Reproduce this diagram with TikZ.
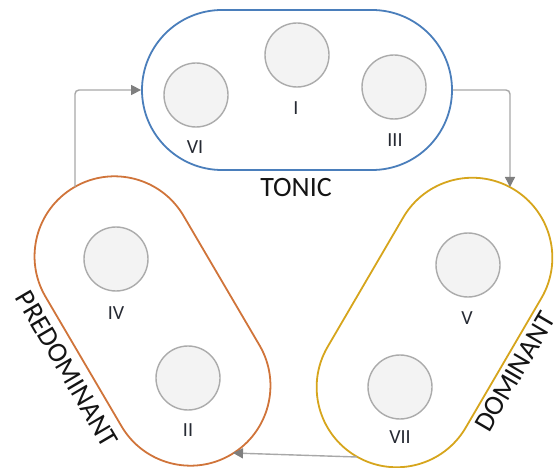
\documentclass[tikz,border=0pt]{standalone}
\usepackage{fontspec}
\setmainfont{Carlito}
\usetikzlibrary{shapes.misc,arrows.meta}
\definecolor{tonicblue}{HTML}{4A7EBB}
\definecolor{predorange}{HTML}{D0743A}
\definecolor{domgold}{HTML}{D6A51C}
\definecolor{chordfill}{HTML}{F3F3F3}
\definecolor{chordline}{HTML}{ABABAB}
\definecolor{flowline}{HTML}{A8A8A8}
\definecolor{flowtip}{HTML}{7F7F7F}
\definecolor{labeltext}{HTML}{262A33}
\begin{document}
\begin{tikzpicture}[x=1pt,y=-1pt,
  group/.style={rounded rectangle, draw, line width=1.8pt,
    minimum width=310pt, minimum height=160pt, inner sep=0pt},
  chord/.style={circle, draw=chordline, fill=chordfill, line width=1.4pt,
    minimum size=64pt, inner sep=0pt},
  numeral/.style={text=labeltext, font=\fontsize{20}{24}\selectfont, inner sep=0pt},
  funclabel/.style={text=black!92, font=\fontsize{28}{32}\selectfont, inner sep=0pt},
  flow/.style={draw=flowline, line width=1.4pt, rounded corners=4pt,
    -{Triangle[length=10pt,width=10pt,color=flowtip]}}]
\useasboundingbox (0,0) rectangle (555,468);

% function groups
\node[group, draw=tonicblue] (TON) at (297,90) {};
\node[group, draw=predorange, rotate=-59.6] (PD) at (152.5,321) {};
\node[group, draw=domgold, rotate=59.7] (DM) at (434.5,322.5) {};

% chords
\node[chord] (cI)   at (297,55)  {};
\node[chord] (cVI)  at (196,95)  {};
\node[chord] (cIII) at (394,87)  {};
\node[chord] (cIV)  at (116,259) {};
\node[chord] (cII)  at (188,378) {};
\node[chord] (cV)   at (468,265) {};
\node[chord] (cVII) at (400,387) {};

% chord labels
\node[numeral] (lI)   at (296,108) {I};
\node[numeral] (lVI)  at (195,147) {VI};
\node[numeral] (lIII) at (395,140) {III};
\node[numeral] (lIV)  at (116,313) {IV};
\node[numeral] (lII)  at (188,430) {II};
\node[numeral] (lV)   at (467,318) {V};
\node[numeral] (lVII) at (400,437) {VII};

% group labels
\node[funclabel] (tTON) at (296,188) {TONIC};
\node[funclabel, rotate=-59.6] (tPD) at (67,369) {PREDOMINANT};
\node[funclabel, rotate=59.7] (tDM) at (515,372) {DOMINANT};

% connector end points on the group outlines
\coordinate (pdOut) at (75,187);
\coordinate (dmIn)  at (510,187);
\coordinate (dmOut) at (357,457);
\coordinate (pdIn)  at (233,453);

% progression arrows
\draw[flow] (pdOut) |- (TON.west);
\draw[flow] (TON.east) -| (dmIn);
\draw[flow] (dmOut) -- (pdIn);
\end{tikzpicture}
\end{document}
